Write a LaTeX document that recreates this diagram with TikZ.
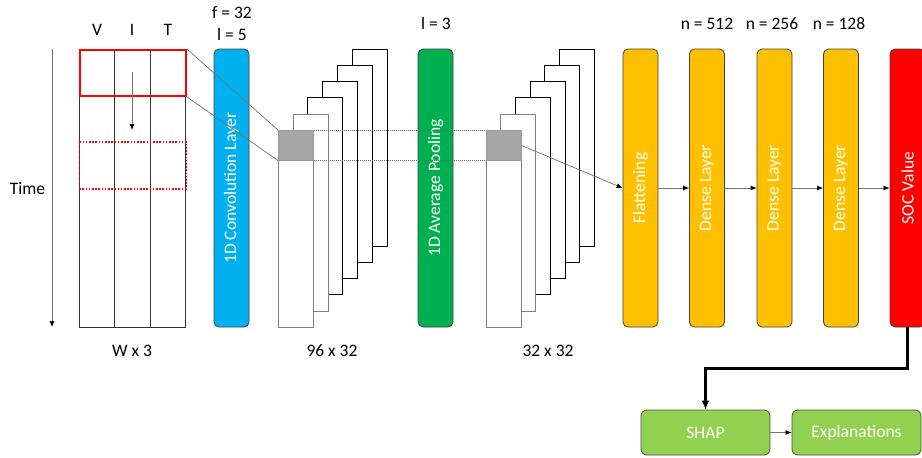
\documentclass[tikz,border=0pt]{standalone}
\usepackage{fontspec}
\setmainfont{Carlito}
\usetikzlibrary{arrows.meta,calc}
\definecolor{convblue}{HTML}{00B0F0}
\definecolor{poolgreen}{HTML}{00B050}
\definecolor{denseyellow}{HTML}{FFC000}
\definecolor{socred}{HTML}{FF0000}
\definecolor{shapgreen}{HTML}{92D050}
\definecolor{blockgray}{HTML}{A6A6A6}
\begin{document}
\begin{tikzpicture}[x=1pt,y=-1pt,
  font=\fontsize{17.5}{21}\selectfont,
  lbl/.style={anchor=base,inner sep=0pt},
  layer/.style={draw=black!75,line width=0.8pt,rounded corners=5pt,
    minimum width=35pt,minimum height=278pt,inner sep=0pt,text=white},
  fmap/.style={draw=black,fill=white,line width=0.8pt,minimum width=35pt,
    minimum height=197pt,anchor=north west,inner sep=0pt},
  fmapfront/.style={fmap,draw=black!50},
  gblock/.style={fill=blockgray,draw=black!40,line width=0.5pt,minimum width=35pt,
    minimum height=30pt,anchor=north west,inner sep=0pt},
  link/.style={draw=black!55,line width=0.7pt},
  tip/.style={-{Latex[length=6pt,width=5pt,color=black]}},
  outbox/.style={draw=black!70,line width=0.8pt,rounded corners=6pt,fill=shapgreen,
    minimum height=45pt,inner sep=0pt,text=white}]
\useasboundingbox (0,0) rectangle (922,458);
\clip (0,0) rectangle (922,458);

% time axis
\node[lbl] (time) at (27.5,194) {Time};
\draw[link,tip] (52,49) -- (52,327);

% input window grid
\node[lbl] (lv) at (97,35) {V};
\node[lbl] (li) at (132,35) {I};
\node[lbl] (lt) at (168,35) {T};
\node[draw=black!80,line width=0.8pt,minimum width=106pt,minimum height=278pt,
  anchor=north west,inner sep=0pt] (grid) at (79,49) {};
\draw[black!80,line width=0.8pt] (114,49) -- (114,327) (150,49) -- (150,327);
\node[draw=socred,line width=2pt,minimum width=106pt,minimum height=46pt,
  anchor=north west,inner sep=0pt] (win) at (79,49) {};
\node[draw=socred,line width=1.5pt,dash pattern=on 1.6pt off 1.6pt,minimum width=107pt,
  minimum height=47pt,anchor=north west,inner sep=0pt] (win2) at (78.5,141) {};
\coordinate (slidetop) at (132,72);
\coordinate (slidebot) at (132,130);
\draw[link,tip] (slidetop) -- (slidebot);
\node[lbl] (wdim) at (132,356) {W x 3};

% convolution layer
\node[lbl] (lf) at (232,18) {f = 32};
\node[lbl] (lk) at (232,40) {l = 5};

% first stack of feature maps
\foreach \i in {5,4,3,2} {
  \node[fmap] (sa\i) at ({278+14.7*\i},{130-16.3*\i}) {};
}
\node[fmapfront] (sa1) at ({278+14.7},{130-16.3}) {};
\node[fmapfront] (sa0) at (278,130) {};
\node[gblock] (ga) at (278,130) {};
\node[lbl] (adim) at (332,356) {96 x 32};

% second stack of feature maps
\foreach \i in {5,4,3,2} {
  \node[fmap] (sb\i) at ({485.5+14.7*\i},{130-16.3*\i}) {};
}
\node[fmapfront] (sb1) at ({485.5+14.7},{130-16.3}) {};
\node[fmapfront] (sb0) at (485.5,130) {};
\node[gblock] (gb) at (485.5,130) {};
\node[lbl] (bdim) at (548,356) {32 x 32};

% layer columns
\node[layer,fill=convblue] (conv) at (231.5,188) {\rotatebox{90}{1D Convolution Layer}};
\node[layer,fill=poolgreen] (pool) at (435.5,188) {\rotatebox{90}{1D Average Pooling}};
\node[lbl] (lp) at (436,29) {l = 3};
\node[layer,fill=denseyellow] (flat) at (640.5,188) {\rotatebox{90}{Flattening}};
\node[layer,fill=denseyellow] (d1) at (707,188) {\rotatebox{90}{Dense Layer}};
\node[layer,fill=denseyellow] (d2) at (774.5,188) {\rotatebox{90}{Dense Layer}};
\node[layer,fill=denseyellow] (d3) at (841,188) {\rotatebox{90}{Dense Layer}};
\node[layer,fill=socred] (soc) at (907.5,188) {\rotatebox{90}{SOC Value}};
\node[lbl] (n1) at (707,29) {n = 512};
\node[lbl] (n2) at (772,29) {n = 256};
\node[lbl] (n3) at (839,29) {n = 128};

% receptive field and pooling guides
\draw[link] (win.north east) -- (ga.north west);
\draw[link] (win.south east) -- (ga.south west);
\draw[black!60,line width=0.8pt,dash pattern=on 1pt off 1pt] (ga.north east) -- (gb.north west);
\draw[black!60,line width=0.8pt,dash pattern=on 1pt off 1pt] (ga.south east) -- (gb.south west);
\draw[link,tip] (gb.east) -- (flat.west);

% dense chain
\draw[link,tip] (flat.east) -- (d1.west);
\draw[link,tip] (d1.east) -- (d2.west);
\draw[link,tip] (d2.east) -- (d3.west);
\draw[link,tip] (d3.east) -- (soc.west);

% explanation stage
\node[outbox,minimum width=129pt] (shap) at (705.5,432.5) {SHAP};
\node[outbox,minimum width=129pt] (expl) at (856.5,432.5) {Explanations};
\draw[black,line width=2.5pt,-{Latex[length=9pt,width=8pt]}]
  (soc.south) -- ++(0,41) -| (shap.north);
\draw[link,tip] (shap.east) -- (expl.west);
\end{tikzpicture}
\end{document}
